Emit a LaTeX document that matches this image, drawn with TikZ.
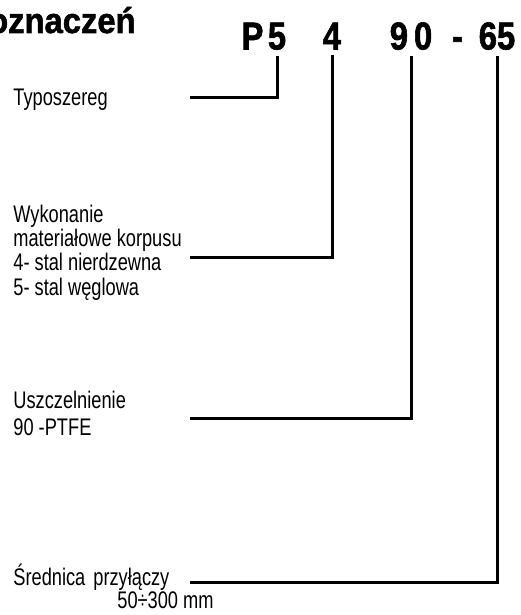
\documentclass[tikz,border=0pt]{standalone}
\usepackage{fontspec}
\newfontfamily\opisfont[FakeStretch=0.76]{Liberation Sans}
\newfontfamily\kodfont[FakeStretch=0.84,FakeBold=1.5]{Liberation Sans}
\newfontfamily\tytulfont[FakeStretch=0.92,FakeBold=1.5]{Liberation Sans}
\tikzset{
	opis/.style={anchor=base west, inner sep=0pt, font=\opisfont\fontsize{12}{14}\selectfont},
	kod/.style={anchor=base, inner sep=0pt, font=\kodfont\bfseries\fontsize{19.5}{22}\selectfont},
	odnosnik/.style={line width=1.5pt, shorten <=2.75pt},
}

\begin{document}
\begin{tikzpicture}[x=0.5pt, y=-0.5pt]
	\useasboundingbox (0,0) rectangle (520,615);

	% naglowek i kod
	\node[kod, anchor=base east, font=\tytulfont\bfseries\fontsize{17.8}{20}\selectfont] (tytul) at (136,33) {oznaczeń};
	\node[kod] (kodP) at (252.5,49.5) {P};
	\node[kod] (kod5) at (277,49.5) {5};
	\node[kod] (kod4) at (332,49.5) {4};
	\node[kod] (kod90) at (411,49.5) {9\hspace{3pt}0};
	\node[kod] (kodkreska) at (457.5,49.5) {-};
	\node[kod] (kod65) at (497,49.5) {65};

	% opisy
	\node[opis] (typ) at (13,105) {Typoszereg};
	\node[opis] (wyk1) at (13,222) {Wykonanie};
	\node[opis] (wyk2) at (13,246) {materiałowe korpusu};
	\node[opis] (wyk3) at (13,270) {4- stal nierdzewna};
	\node[opis] (wyk4) at (13,295) {5- stal węglowa};
	\node[opis] (usz1) at (13,408) {Uszczelnienie};
	\node[opis] (usz2) at (13,435) {90 -PTFE};
	\node[opis] (sred1) at (13,585) {Średnica\hspace{4pt}przyłączy};
	\node[opis] (sred2) at (117,608) {50÷300 mm};

	% odnosniki
	\coordinate (k1) at (190,98);
	\coordinate (k2) at (190,257);
	\coordinate (k3) at (190,418);
	\coordinate (k4) at (190,582);
	\draw[odnosnik] (kod5.south) |- (k1);
	\draw[odnosnik] (kod4.south) |- (k2);
	\draw[odnosnik] (kod90.south) |- (k3);
	\draw[odnosnik] (kod65.south) |- (k4);
\end{tikzpicture}
\end{document}
